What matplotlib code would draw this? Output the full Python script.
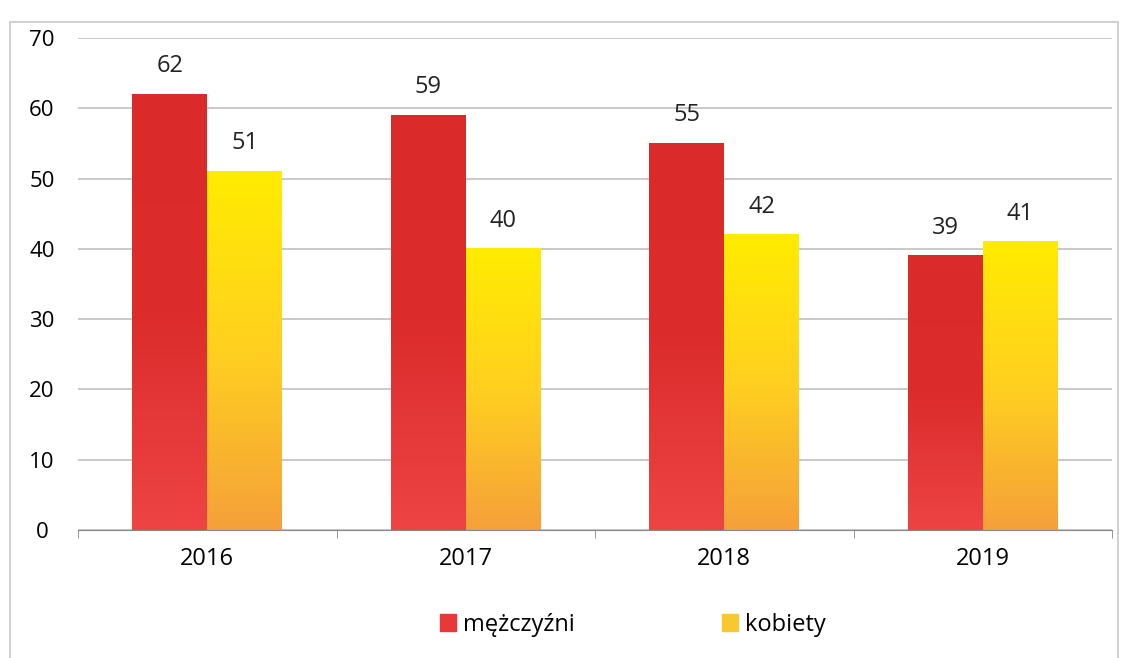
import numpy as np
import matplotlib.pyplot as plt
from matplotlib.colors import LinearSegmentedColormap
from matplotlib.patches import Rectangle

years = ['2016', '2017', '2018', '2019']
men = [62, 59, 55, 39]
women = [51, 40, 42, 41]
series_names = ['mężczyźni', 'kobiety']

plt.rcParams['font.family'] = ['Open Sans', 'DejaVu Sans']

fig = plt.figure(figsize=(11.28, 6.58), dpi=100)
ax = fig.add_axes([78 / 1128, 1 - 530 / 658, 1034 / 1128, 492 / 658])

# frame around the whole chart (bottom edge runs off the image)
fig.patches.append(Rectangle((10 / 1128, -4 / 658), 1108 / 1128, 640 / 658,
                             transform=fig.transFigure, fill=False,
                             edgecolor='#c8c8c8', linewidth=1.2))

x = np.arange(len(years))
w = 0.29
red_cmap = LinearSegmentedColormap.from_list('r', ['#ee4444', '#dc2c2c', '#da2a2a'])
yel_cmap = LinearSegmentedColormap.from_list('y', ['#f5a03a', '#ffd020', '#ffec00'])

grad = np.linspace(0, 1, 256).reshape(-1, 1)
for offs, vals, cmap in [(-w / 2, men, red_cmap), (w / 2, women, yel_cmap)]:
    bars = ax.bar(x + offs, vals, w, color='none', edgecolor='none', zorder=3)
    for b, v in zip(bars, vals):
        x0, y0 = b.get_x(), b.get_y()
        ax.imshow(grad, cmap=cmap, aspect='auto', origin='lower', zorder=3,
                  extent=[x0, x0 + b.get_width(), y0, y0 + b.get_height()])
        ax.text(b.get_x() + b.get_width() / 2, v + 2.3, str(v),
                ha='center', va='bottom', fontsize=17, color='#222222')

ax.set_xlim(-0.5, len(years) - 0.5)
ax.set_ylim(0, 70)
ax.set_yticks(range(0, 71, 10))
ax.set_xticks(x)
ax.set_xticklabels(years)
ax.set_xticks(np.arange(-0.5, len(years)), minor=True)
ax.tick_params(axis='x', which='major', length=0, pad=12, labelsize=17)
ax.tick_params(axis='x', which='minor', length=6, color='#888888')
ax.tick_params(axis='y', length=0, pad=26, labelsize=16)
for t in ax.get_yticklabels():
    t.set_horizontalalignment('center')
ax.grid(axis='y', color='#c0c0c0', linewidth=1.2, zorder=0)
for s in ['top', 'right', 'left']:
    ax.spines[s].set_visible(False)
ax.spines['bottom'].set_color('#888888')
ax.spines['bottom'].set_zorder(4)

handles = [Rectangle((0, 0), 1, 1, color='#e83838'),
           Rectangle((0, 0), 1, 1, color='#f8c830')]
fig.legend(handles, series_names, loc='center', bbox_to_anchor=(0.561, 1 - 625 / 658),
           ncol=2, frameon=False, fontsize=17, handlelength=0.7, handleheight=0.7,
           handletextpad=0.3, columnspacing=6.2)

fig.savefig('out.png', dpi=100, facecolor='white')
